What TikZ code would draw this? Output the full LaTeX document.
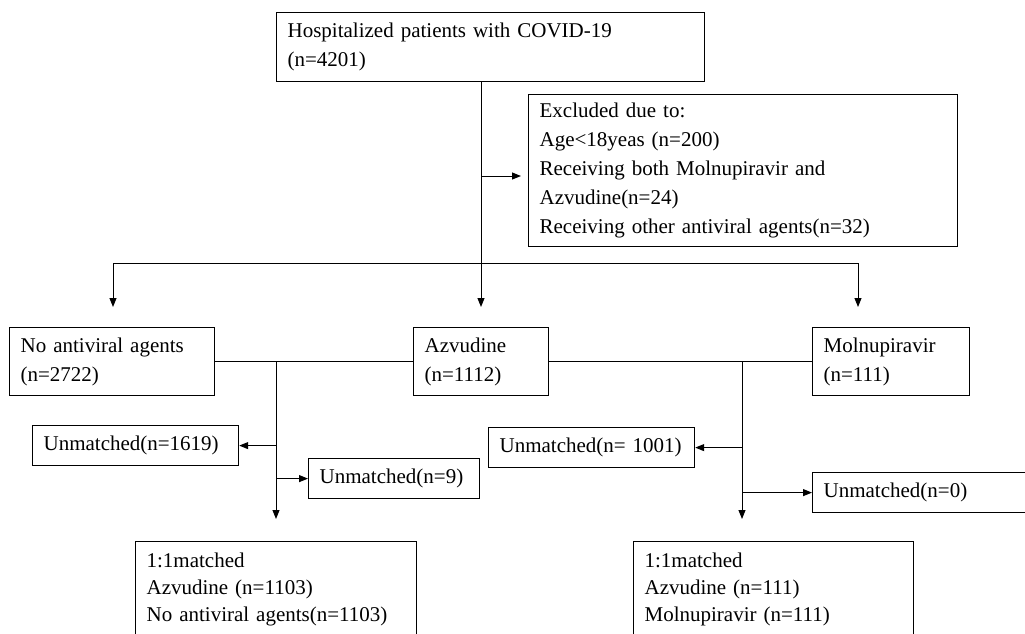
\documentclass[tikz,border=0pt]{standalone}
\usepackage{fontspec}
\setmainfont{Liberation Serif}
\usetikzlibrary{arrows.meta}

\begin{document}
\begin{tikzpicture}[
    x=1pt, y=-1pt,
    >={Triangle[length=9pt,width=7pt]},
    line width=1pt,
    every node/.style={font=\fontsize{21}{29}\selectfont},
    box/.style={draw,line width=1.2pt,anchor=north west,align=left,inner xsep=11pt,inner ysep=0pt},
    small/.style={box,minimum height=40pt},
    matchbox/.style={box,minimum height=96pt,font=\fontsize{21}{27}\selectfont}
]
\useasboundingbox (0,0) rectangle (1025,633);
\clip (0,0) rectangle (1025,633);

\node[box,text width=406pt,minimum height=69pt] (top) at (276,12)
{Hospitalized patients with COVID-19\\(n=4201)};
\node[box,text width=407pt,minimum height=152pt] (excl) at (528,94)
{Excluded due to:\\Age<18yeas (n=200)\\Receiving both Molnupiravir and\\Azvudine(n=24)\\Receiving other antiviral agents(n=32)};

\node[box,text width=183pt,minimum height=68pt] (noav) at (9,327)
{No antiviral agents\\(n=2722)};
\node[box,text width=113pt,minimum height=68pt] (azv) at (413,327)
{Azvudine\\(n=1112)};
\node[box,text width=135pt,minimum height=68pt] (molnu) at (812,327)
{Molnupiravir\\(n=111)};

\node[small,text width=184pt] (un1619) at (32,425) {Unmatched(n=1619)};
\node[small,text width=149pt] (un9) at (308,458) {Unmatched(n=9)};
\node[small,text width=184pt] (un1001) at (488,427) {Unmatched(n= 1001)};
\node[small,text width=228pt] (un0) at (812,472) {Unmatched(n=0)};

\node[matchbox,text width=259pt] (lmatch) at (135,541)
{1:1matched\\Azvudine (n=1103)\\No antiviral agents(n=1103)};
\node[matchbox,text width=258pt] (rmatch) at (633,541)
{1:1matched\\Azvudine (n=111)\\Molnupiravir (n=111)};

\coordinate (sp) at (481,263);
\coordinate (ex) at (481,176);
\coordinate (hl) at (113,263);
\coordinate (hr) at (858,263);
\coordinate (lb) at (276,361);
\coordinate (rb) at (742,361);

\draw (top.south -| sp) -- (sp);
\draw[->] (sp) -- +(0,44);
\draw[->,shorten >=7pt] (ex) -- (excl.west |- ex);

\draw (hl) -- (hr);
\draw[->] (hl) -- +(0,44);
\draw[->] (hr) -- +(0,44);

\draw (noav.east) -- (azv.west);
\draw (azv.east) -- (molnu.west);

\draw[->,shorten >=22pt] (lb) -- (lb |- lmatch.north);
\draw[->] (lb |- un1619.east) -- (un1619.east);
\draw[->] (lb |- un9.west) -- (un9.west);

\draw[->,shorten >=22pt] (rb) -- (rb |- rmatch.north);
\draw[->] (rb |- un1001.east) -- (un1001.east);
\draw[->] (rb |- un0.west) -- (un0.west);

\end{tikzpicture}
\end{document}
